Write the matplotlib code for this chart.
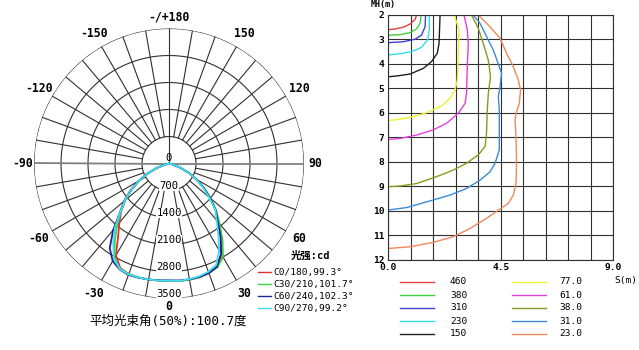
import numpy as np
import matplotlib.pyplot as plt
from matplotlib.lines import Line2D

plt.rcParams['font.family'] = ['DejaVu Sans Mono', 'Noto Sans CJK SC', 'DejaVu Sans']

# ---- polar light distribution (cd), angle measured from nadir ----
angles = [0, 5, 10, 15, 20, 25, 30, 35, 40, 45, 50, 55, 60, 65, 70, 75, 80, 85, 90]

c0_right = [3050, 3055, 3060, 3055, 3030, 2960, 2720, 2350, 1990, 1720, 1400, 1100, 820, 560, 300, 90, 0, 0, 0]
c0_left = [3050, 3050, 3055, 3060, 3050, 2990, 2750, 2300, 2000, 1760, 1480, 1180, 880, 600, 320, 100, 0, 0, 0]
c30_right = [3050, 3055, 3055, 3050, 3020, 2970, 2800, 2420, 2040, 1730, 1410, 1110, 830, 570, 300, 90, 0, 0, 0]
c30_left = [3040, 3045, 3050, 3055, 3050, 3010, 2830, 2450, 2100, 1770, 1490, 1190, 890, 610, 330, 100, 0, 0, 0]
c60_right = [3040, 3045, 3050, 3045, 3020, 2950, 2700, 2330, 1970, 1710, 1390, 1100, 820, 560, 300, 90, 0, 0, 0]
c60_left = [3030, 3040, 3055, 3065, 3075, 3030, 2920, 2680, 2250, 1800, 1520, 1220, 920, 630, 340, 100, 0, 0, 0]
c90_right = [3060, 3055, 3045, 3025, 2985, 2900, 2600, 2230, 1920, 1700, 1350, 1070, 800, 560, 320, 100, 0, 0, 0]
c90_left = [3040, 3045, 3055, 3060, 3060, 3020, 2860, 2520, 2180, 1790, 1500, 1200, 900, 620, 330, 100, 0, 0, 0]

polar_labels = ["C0/180,99.3°", "C30/210,101.7°", "C60/240,102.3°", "C90/270,99.2°"]
polar_colors = ["#e03030", "#40d040", "#20209a", "#40e0f0"]
ring_values = [700, 1400, 2100, 2800, 3500]
angle_ticks = [-150, -120, -90, -60, -30, 0, 30, 60, 90, 120, 150, 180]

# ---- isolux diagram ----
lux_levels = ["460", "380", "310", "230", "150", "77.0", "61.0", "38.0", "31.0", "23.0"]
lux_colors = ["#e04040", "#40d040", "#4040d0", "#30e0e8", "#202020",
              "#f0f030", "#e040e0", "#8a9a20", "#3a8ad8", "#f0885a"]
iso_x = [
    [1.13, 1.07, 0.87, 0.60, 0.27, 0.0],
    [1.31, 1.27, 1.13, 0.87, 0.47, 0.0],
    [1.49, 1.47, 1.33, 1.07, 0.60, 0.0],
    [1.64, 1.64, 1.57, 1.33, 0.93, 0.40, 0.0],
    [2.07, 2.03, 1.96, 1.73, 1.40, 0.87, 0.33, 0.0],
    [2.64, 2.83, 2.80, 2.76, 2.67, 2.47, 2.13, 1.53, 0.87, 0.20, 0.0],
    [3.03, 3.16, 3.20, 3.16, 3.13, 3.07, 2.80, 2.33, 1.80, 1.13, 0.47, 0.0],
    [3.33, 3.60, 3.80, 4.00, 4.09, 4.00, 3.96, 3.93, 3.87, 3.60, 3.13, 2.60, 1.93, 1.13, 0.47, 0.0],
    [3.40, 3.67, 3.93, 4.20, 4.44, 4.53, 4.47, 4.40, 4.44, 4.44, 4.27, 4.07, 3.67, 3.13, 2.47, 1.53, 0.73, 0.0],
    [3.60, 4.07, 4.47, 4.73, 5.00, 5.20, 5.29, 5.24, 5.13, 5.07, 5.11, 5.13, 5.11, 5.00, 4.80, 4.47,
     3.93, 3.27, 2.60, 1.80, 0.87, 0.0],
]
iso_y = [
    [2.0, 2.18, 2.37, 2.50, 2.57, 2.60],
    [2.0, 2.34, 2.57, 2.72, 2.80, 2.83],
    [2.0, 2.48, 2.82, 2.99, 3.09, 3.13],
    [2.0, 2.61, 3.02, 3.32, 3.50, 3.59, 3.63],
    [2.0, 3.16, 3.56, 3.90, 4.18, 4.41, 4.49, 4.52],
    [2.0, 2.61, 3.70, 4.65, 5.06, 5.40, 5.71, 5.99, 6.18, 6.29, 6.30],
    [2.0, 2.61, 3.16, 4.10, 5.20, 5.61, 6.01, 6.42, 6.69, 6.90, 7.04, 7.08],
    [2.0, 2.54, 3.16, 3.84, 4.52, 5.20, 5.88, 6.83, 7.37, 7.71, 8.05, 8.33, 8.60, 8.88, 8.98, 9.01],
    [2.0, 2.34, 2.88, 3.43, 4.11, 4.38, 4.93, 5.33, 5.88, 7.51, 8.05, 8.40, 8.74, 9.08, 9.35, 9.63, 9.86, 9.96],
    [2.0, 2.48, 2.95, 3.56, 4.11, 4.65, 5.06, 5.61, 5.95, 6.29, 7.00, 8.05, 8.87, 9.35, 9.69, 9.92,
     10.30, 10.71, 11.05, 11.28, 11.46, 11.53],
]

W, H = 639, 350


def fx(x):
    return x / W


def fy(y):
    return 1 - y / H


fig = plt.figure(figsize=(6.39, 3.5), dpi=100)

# --- Polar chart ---
R = 135
cx, cy = 169, 163.5
ax = fig.add_axes([fx(cx - R), fy(cy + R), 2 * R / W, 2 * R / H], projection='polar')
ax.set_theta_zero_location('S')
ax.set_theta_direction(1)
ax.set_ylim(0, 3500)
ax.grid(False)
ax.set_xticks([])
ax.set_yticks([])
ax.spines['polar'].set_visible(False)
ax.patch.set_alpha(0)

grid_c = "#303030"
circ = np.linspace(0, 2 * np.pi, 361)
for rv in ring_values:
    ax.plot(circ, np.full_like(circ, rv), color=grid_c, lw=0.8, zorder=1)
for a in range(10, 360, 10):
    if a in (90, 180, 270):
        continue
    th = np.radians(a)
    ax.plot([th, th], [ring_values[0], ring_values[-1]], color=grid_c, lw=0.8, zorder=1)
# horizontal axis and upper vertical axis
ax.plot([np.pi / 2, np.pi / 2], [0, 3500], color="#808080", lw=1.3, zorder=1)
ax.plot([-np.pi / 2, -np.pi / 2], [0, 3500], color="#808080", lw=1.3, zorder=1)
ax.plot([np.pi, np.pi], [0, 3500], color=grid_c, lw=0.8, zorder=1)

ang = np.radians(angles)
curves = [(c0_left, c0_right), (c30_left, c30_right), (c60_left, c60_right), (c90_left, c90_right)]
for (lv, rv), col in zip(curves, polar_colors):
    th = np.concatenate([-ang[::-1], ang[1:]])
    rr = np.concatenate([np.array(lv)[::-1], np.array(rv)[1:]])
    ax.plot(th, rr, color=col, lw=1.3, zorder=3)

for a in angle_ticks:
    txt = "-/+180" if a == 180 else str(a)
    if a in (0, 180):
        rad = 3700 if a == 0 else 3800
    elif abs(a) == 90:
        rad = 3800
    else:
        rad = 3900
    ax.text(np.radians(a), rad, txt, ha='center', va='center', fontsize=8.3, fontweight='bold')

for rv in ring_values:
    ax.text(0, rv - 115, str(rv), ha='center', va='center', fontsize=7.6, zorder=4,
            bbox=dict(facecolor='white', edgecolor='none', pad=0.3))
ax.text(np.pi, 150, "0", ha='center', va='center', fontsize=7.6, zorder=4)

fig.text(fx(168), fy(321), "平均光束角(50%):100.7度", ha='center', va='center', fontsize=9)
fig.text(fx(311), fy(256), "光强:cd", ha='center', va='center', fontsize=7.5, fontweight='bold')
leg_y = [272, 284, 296, 308]
for yy, lab, col in zip(leg_y, polar_labels, polar_colors):
    fig.add_artist(Line2D([fx(258), fx(271)], [fy(yy), fy(yy)], color=col, lw=1.0))
    fig.text(fx(273), fy(yy), lab, ha='left', va='center', fontsize=6.8)

# --- Isolux chart ---
ax2 = fig.add_axes([fx(388.3), fy(260), 225 / W, 245 / H])
for xs, ys, col in zip(iso_x, iso_y, lux_colors):
    ax2.plot(xs, ys, color=col, lw=1.0)
ax2.set_xlim(0, 9)
ax2.set_ylim(12, 2)
ax2.set_xticks(np.arange(0, 9.01, 0.9), minor=True)
ax2.set_yticks(range(2, 13))
ax2.set_yticklabels([str(v) for v in range(2, 13)], fontsize=6.8, fontweight='bold')
ax2.set_xticks([0, 4.5, 9])
ax2.set_xticklabels(["0.0", "4.5", "9.0"], fontsize=6.8, fontweight='bold')
ax2.tick_params(which='both', length=0)
ax2.tick_params(axis='y', pad=3)
ax2.tick_params(axis='x', pad=2.5)
ax2.grid(True, which='both', color=grid_c, lw=0.8)
for s in ax2.spines.values():
    s.set_color(grid_c)
    s.set_linewidth(0.8)

fig.text(fx(383), fy(5), "MH(m)", ha='center', va='center', fontsize=6, fontweight='bold')
fig.text(fx(626), fy(281), "S(m)", ha='center', va='center', fontsize=6.8)

rows = [282, 295, 308, 321, 334]
for i, (lab, col) in enumerate(zip(lux_levels, lux_colors)):
    col_i, row_i = divmod(i, 5)
    x0 = 400 if col_i == 0 else 512
    tx = 450 if col_i == 0 else 559
    yy = rows[row_i]
    fig.add_artist(Line2D([fx(x0), fx(x0 + 34)], [fy(yy), fy(yy)], color=col, lw=1.0))
    fig.text(fx(tx), fy(yy), lab, ha='left', va='center', fontsize=6.8)

fig.savefig("out.png", dpi=100)
